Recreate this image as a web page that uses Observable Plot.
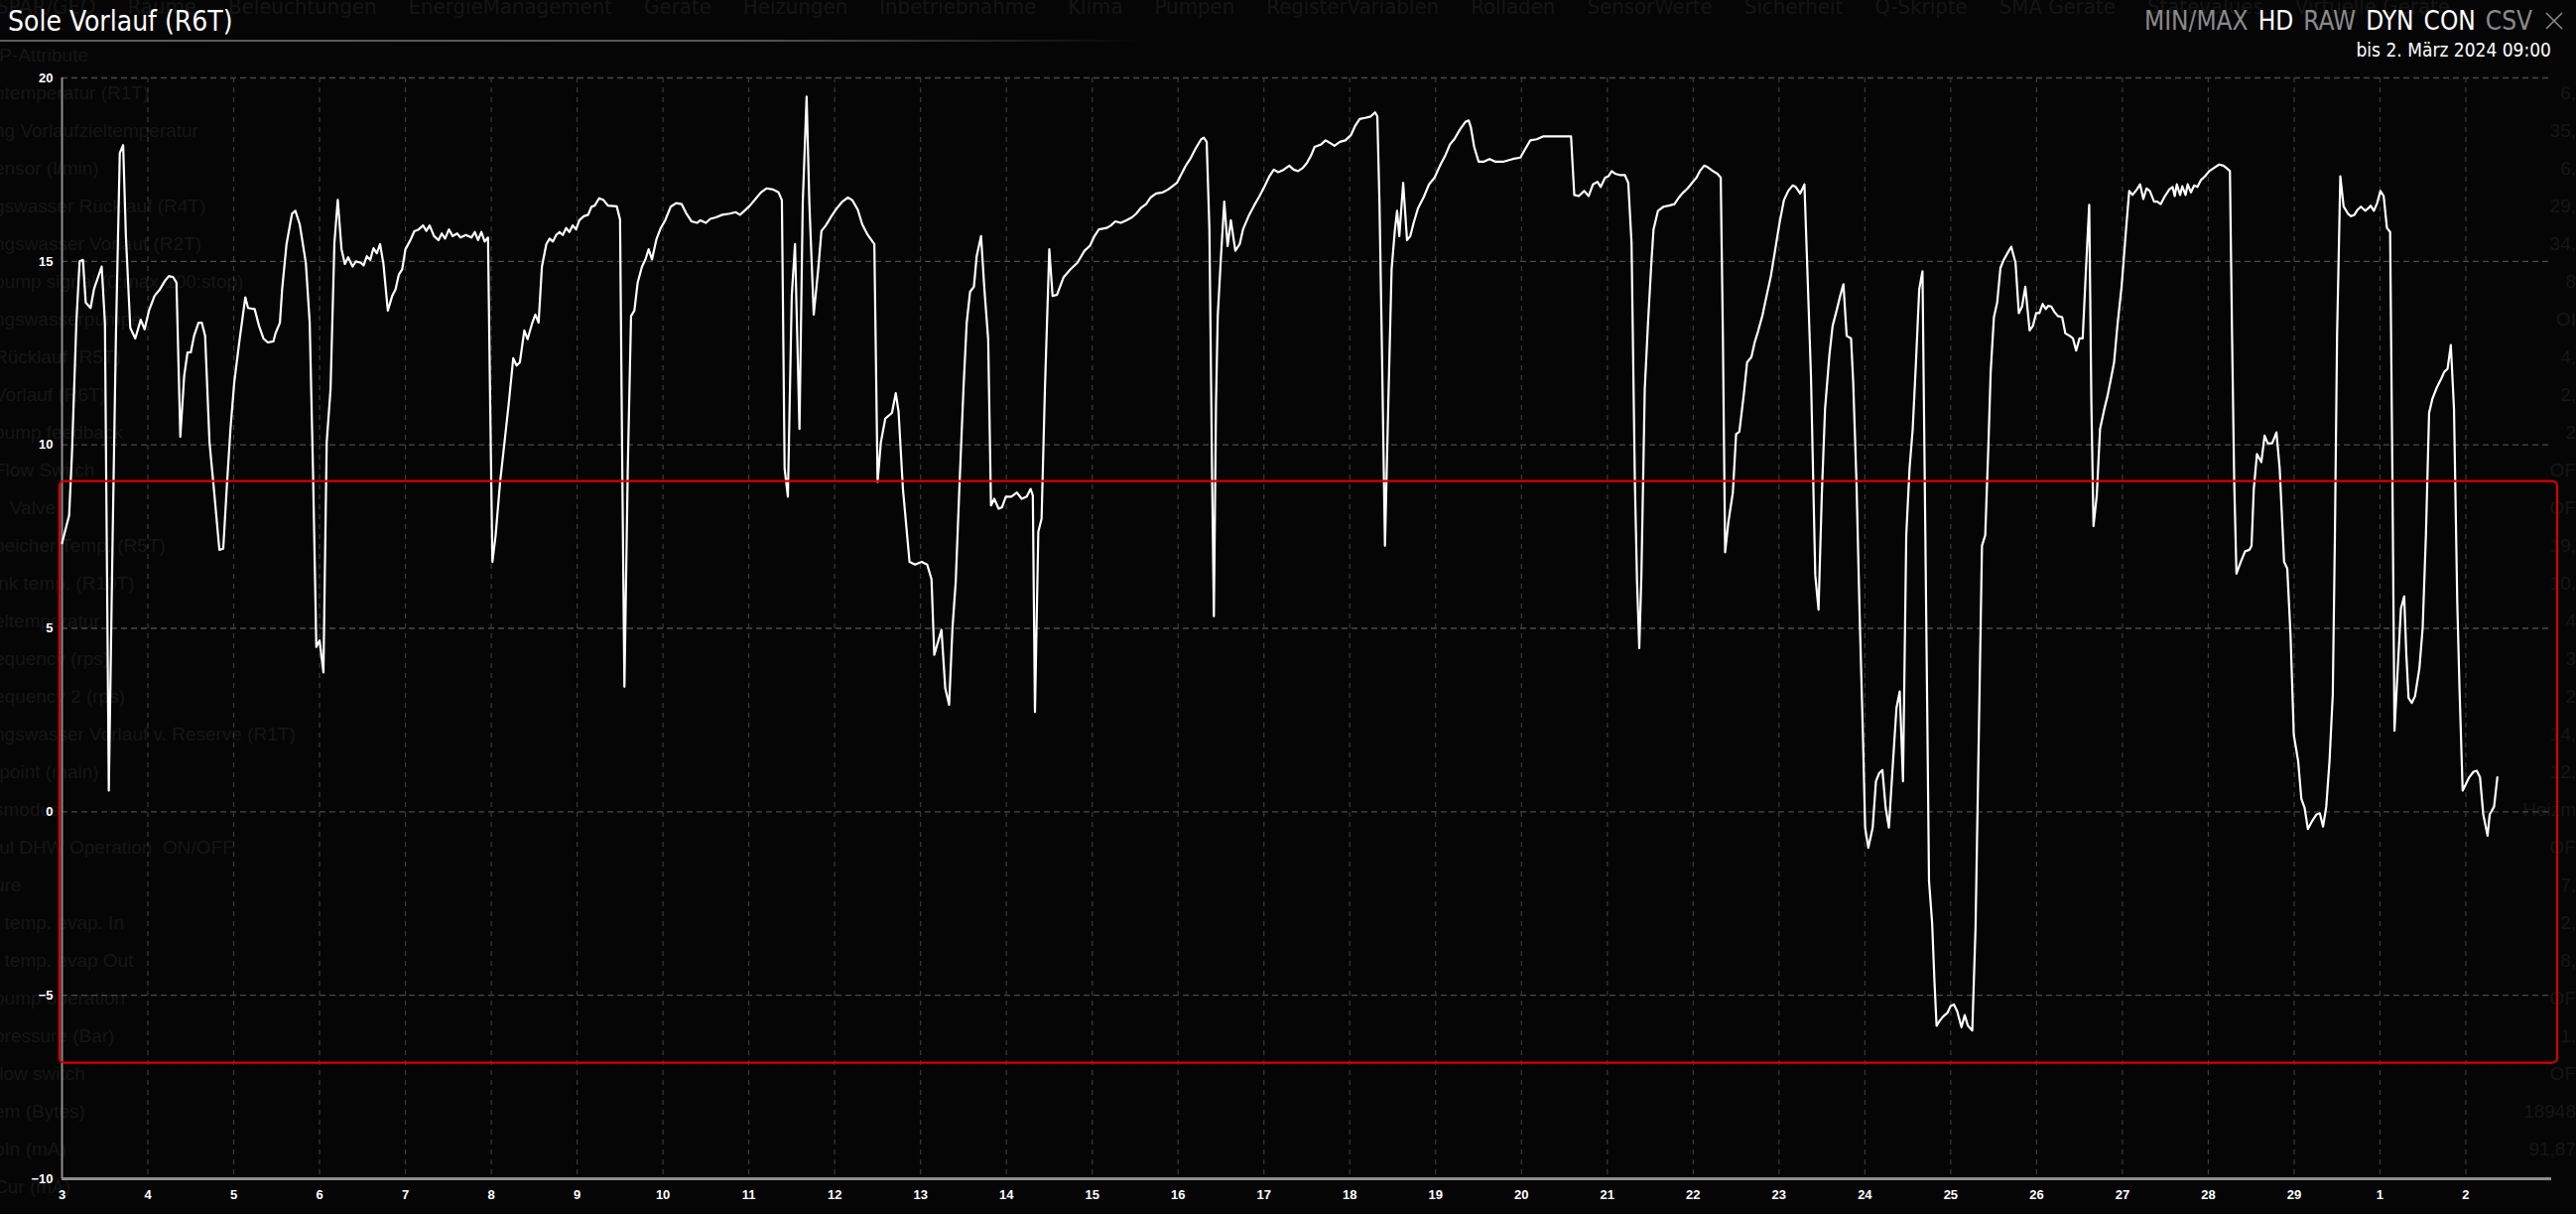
<!DOCTYPE html>
<html>
<head>
<meta charset="utf-8">
<script src="https://cdn.jsdelivr.net/npm/d3@7"></script>
<script src="https://cdn.jsdelivr.net/npm/@observablehq/plot@0.6"></script>
<style>
html,body{margin:0;padding:0;background:#050505;overflow:hidden;}
#root{position:relative;width:2596px;height:1223px;background:#050505;overflow:hidden;
  font-family:"Liberation Sans Narrow","Arial Narrow","DejaVu Sans Condensed",sans-serif;}
#ghost{position:absolute;left:0;top:0;width:2596px;height:1223px;z-index:0;pointer-events:none;}
#nav{position:absolute;left:-4px;top:-6px;display:flex;gap:32px;font-size:22px;color:#151515;white-space:nowrap;}
#leftList{position:absolute;left:-6px;top:37px;font-family:"Liberation Sans",Arial,sans-serif;font-size:19px;line-height:38px;color:#161616;white-space:pre;}
#rightList{position:absolute;right:0;top:75px;text-align:right;font-family:"Liberation Sans",Arial,sans-serif;font-size:19px;line-height:38px;color:#161616;white-space:pre;}
#header{position:relative;height:60px;z-index:2;}
#title{position:absolute;left:8px;top:8px;font-size:28px;line-height:28px;color:#fff;white-space:nowrap;}
#hline{position:absolute;left:0;top:40px;width:1150px;height:2px;background:linear-gradient(to right,#5e5e5e 0%,#545454 65%,rgba(84,84,84,0) 100%);}
#buttons{position:absolute;right:12px;top:8px;display:flex;gap:10px;align-items:center;font-size:26px;line-height:26px;white-space:nowrap;}
#buttons .on{color:#ffffff;}
#buttons .off{color:#8a8a8a;}
#date{position:absolute;right:25px;top:41px;font-size:19px;line-height:19px;color:#fff;white-space:nowrap;}
#chart{position:relative;z-index:1;}
</style>
</head>
<body>
<div id="root">
  <div id="ghost">
    <div id="nav"></div>
    <div id="leftList"></div>
    <div id="rightList"></div>
  </div>
  <div id="header">
    <div id="title"></div>
    <div id="hline"></div>
    <div id="buttons"></div>
    <div id="date"></div>
  </div>
  <div id="chart"></div>
</div>
<script>
// ---------- texts ----------
const chartTitle = "Sole Vorlauf (R6T)";
const rangeText = "bis 2. März 2024 09:00";
const buttonLabels = ["MIN/MAX", "HD", "RAW", "DYN", "CON", "CSV"];
const buttonActive = [false, true, false, true, true, false];

// faint page content behind the overlay
const navGhost = ["SPAR/GEO", "Räume", "Beleuchtungen", "EnergieManagement", "Geräte", "Heizungen", "Inbetriebnahme", "Klima", "Pumpen", "RegisterVariablen", "Rolladen", "SensorWerte", "Sicherheit", "Q-Skripte", "SMA Geräte", "Statevalues", "Virtuelle Geräte"];
const leftGhost = ["/P-Attribute", "ntemperatur (R1T)", "ng Vorlaufzieltemperatur", "ensor (l/min)", "gswasser Rücklauf (R4T)", "ngswasser Vorlauf (R2T)", "pump signal (0:max-100:stop)", "ngswasserpumpe", "Rücklauf (R5T)", "Vorlauf (R6T)", "pump feedback", "Flow Switch", "   Valve", "peicher Temp. (R5T)", "ink temp. (R10T)", "eltemperatur", "equency (rps)", "equency 2 (rps)", "ngswasser Vorlauf v. Reserve (R1T)", "tpoint (main)", "smodus", "ful DHW Operation  ON/OFF", "ure", "  temp. evap. In", "  temp. evap Out", "pump operation", "pressure (Bar)", "flow switch", "em (Bytes)", "pIn (mA)", "Cur (mA)"];
const rightGhost = ["6,", "35,", "6,", "29,", "34,", "8", "OI", "4,", "2,", "2", "OF", "OF", "19,", "10,", "4", "3", "2", "14,", "12,", "Heizm", "OF", "7,", "2,", "8,", "OF", "1,", "OF", "18948", "91,87"];

// ---------- axes ----------
const dayTicks = [0, 1, 2, 3, 4, 5, 6, 7, 8, 9, 10, 11, 12, 13, 14, 15, 16, 17, 18, 19, 20, 21, 22, 23, 24, 25, 26, 27, 28];
const dayLabels = ["3", "4", "5", "6", "7", "8", "9", "10", "11", "12", "13", "14", "15", "16", "17", "18", "19", "20", "21", "22", "23", "24", "25", "26", "27", "28", "29", "1", "2"];
const yTicks = [-10, -5, 0, 5, 10, 15, 20];
const xDomain = [0, 29];
const yDomain = [-10, 20];

// selection box (days since 3 Feb 00:00, °C)
const selection = [{x1: -0.025, x2: 29.07, y1: -6.85, y2: 9.0}];

// ---------- series: [days since 3 Feb 00:00, °C] ----------
const soleVorlauf = [
[0,7.32],[0.083,8.08],[0.115,9.71],[0.167,13.33],[0.205,15.0],[0.244,15.04],[0.276,13.88],[0.333,13.73],[0.372,14.24],[0.462,14.86],[0.5,13.33],[0.545,0.58],[0.59,7.54],[0.628,12.97],[0.673,17.95],[0.712,18.17],[0.744,15.69],[0.795,13.19],[0.853,12.9],[0.917,13.41],[0.962,13.15],[1.013,13.66],[1.077,14.06],[1.14,14.24],[1.205,14.49],[1.244,14.6],[1.295,14.57],[1.333,14.42],[1.378,10.22],[1.423,11.88],[1.462,12.52],[1.5,12.52],[1.538,12.97],[1.59,13.33],[1.628,13.33],[1.667,12.97],[1.718,10.07],[1.769,8.8],[1.833,7.14],[1.878,7.17],[1.923,8.99],[1.962,10.43],[2.006,11.7],[2.064,12.79],[2.135,14.02],[2.167,13.73],[2.244,13.7],[2.295,13.24],[2.346,12.9],[2.397,12.79],[2.462,12.82],[2.487,13.04],[2.538,13.33],[2.564,14.24],[2.615,15.47],[2.679,16.3],[2.718,16.38],[2.769,16.01],[2.84,14.96],[2.885,13.33],[2.923,9.35],[2.962,4.49],[3.0,4.67],[3.045,3.8],[3.083,10.07],[3.128,11.52],[3.173,15.51],[3.212,16.68],[3.256,15.33],[3.295,14.93],[3.333,15.11],[3.385,14.86],[3.423,15.0],[3.481,14.96],[3.513,14.89],[3.551,15.14],[3.59,15.04],[3.628,15.36],[3.667,15.22],[3.705,15.47],[3.744,14.93],[3.795,13.66],[3.846,14.06],[3.885,14.24],[3.923,14.64],[3.962,14.78],[4.0,15.33],[4.058,15.58],[4.103,15.82],[4.154,15.87],[4.205,15.98],[4.244,15.83],[4.282,15.98],[4.333,15.69],[4.385,15.58],[4.423,15.76],[4.462,15.62],[4.506,15.87],[4.551,15.69],[4.603,15.76],[4.641,15.65],[4.705,15.72],[4.769,15.65],[4.808,15.8],[4.846,15.58],[4.885,15.8],[4.923,15.54],[4.962,15.65],[4.987,11.16],[5.013,6.81],[5.051,7.54],[5.103,8.99],[5.154,10.07],[5.205,11.16],[5.256,12.36],[5.295,12.16],[5.333,12.25],[5.385,13.12],[5.423,12.88],[5.474,13.3],[5.513,13.55],[5.551,13.33],[5.59,14.86],[5.641,15.47],[5.679,15.62],[5.718,15.54],[5.756,15.72],[5.795,15.8],[5.833,15.72],[5.872,15.91],[5.91,15.8],[5.949,15.98],[5.987,15.87],[6.026,16.12],[6.077,16.23],[6.128,16.27],[6.167,16.49],[6.205,16.52],[6.256,16.72],[6.308,16.67],[6.359,16.52],[6.462,16.5],[6.5,16.14],[6.526,9.35],[6.551,3.41],[6.59,9.35],[6.628,13.51],[6.667,13.66],[6.705,14.42],[6.756,14.86],[6.795,15.05],[6.833,15.33],[6.872,15.05],[6.923,15.6],[6.974,15.91],[7.026,16.12],[7.09,16.49],[7.154,16.59],[7.218,16.56],[7.269,16.32],[7.333,16.09],[7.397,16.05],[7.436,16.12],[7.5,16.05],[7.551,16.16],[7.615,16.2],[7.692,16.27],[7.776,16.3],[7.846,16.34],[7.897,16.27],[7.949,16.38],[8.013,16.52],[8.077,16.7],[8.141,16.88],[8.205,16.99],[8.282,16.96],[8.346,16.88],[8.385,16.67],[8.417,9.35],[8.455,8.59],[8.5,14.06],[8.538,15.47],[8.59,10.43],[8.628,16.59],[8.673,19.49],[8.705,16.59],[8.756,13.55],[8.808,14.78],[8.846,15.83],[8.897,15.98],[8.962,16.23],[9.026,16.45],[9.09,16.63],[9.154,16.74],[9.205,16.67],[9.269,16.41],[9.321,16.01],[9.385,15.72],[9.462,15.47],[9.5,8.99],[9.538,10.07],[9.59,10.72],[9.667,10.87],
[9.712,11.41],[9.744,10.91],[9.795,8.8],[9.872,6.81],[9.936,6.74],[10.013,6.81],[10.077,6.74],[10.128,6.34],[10.16,4.28],[10.244,4.96],[10.288,3.37],[10.333,2.92],[10.372,5.0],[10.41,6.27],[10.449,8.62],[10.5,11.52],[10.538,13.33],[10.577,14.17],[10.622,14.31],[10.654,15.14],[10.705,15.69],[10.744,14.24],[10.788,12.88],[10.821,8.35],[10.859,8.53],[10.91,8.26],[10.949,8.3],[10.994,8.59],[11.058,8.59],[11.122,8.7],[11.179,8.53],[11.237,8.59],[11.282,8.8],[11.308,8.62],[11.333,2.72],[11.372,7.63],[11.41,7.99],[11.449,11.52],[11.5,15.33],[11.538,14.06],[11.59,14.09],[11.667,14.57],[11.744,14.78],[11.827,14.96],[11.91,15.29],[11.974,15.43],[12.026,15.69],[12.077,15.87],[12.167,15.91],[12.218,15.98],[12.269,16.09],[12.333,16.05],[12.397,16.12],[12.462,16.2],[12.513,16.3],[12.564,16.45],[12.628,16.56],[12.679,16.74],[12.744,16.85],[12.821,16.88],[12.885,16.96],[12.923,17.03],[12.987,17.14],[13.026,17.32],[13.09,17.61],[13.141,17.79],[13.205,18.08],[13.269,18.33],[13.301,18.37],[13.333,18.26],[13.365,15.87],[13.397,8.99],[13.417,5.33],[13.442,11.16],[13.462,13.51],[13.5,15.14],[13.538,16.63],[13.577,15.42],[13.615,16.12],[13.667,15.29],[13.718,15.47],[13.756,15.87],[13.821,16.23],[13.885,16.52],[13.949,16.78],[14.013,17.07],[14.064,17.32],[14.115,17.5],[14.167,17.43],[14.231,17.5],[14.295,17.61],[14.346,17.5],[14.397,17.46],[14.449,17.54],[14.5,17.68],[14.551,17.9],[14.59,18.12],[14.667,18.19],[14.718,18.3],[14.769,18.23],[14.821,18.15],[14.885,18.26],[14.949,18.3],[15.013,18.44],[15.064,18.7],[15.115,18.88],[15.179,18.91],[15.244,18.95],[15.295,19.06],[15.321,18.95],[15.346,16.59],[15.372,12.97],[15.41,7.25],[15.449,11.16],[15.487,14.78],[15.526,15.87],[15.551,16.38],[15.577,15.69],[15.622,17.14],[15.667,15.58],[15.705,15.69],[15.744,16.05],[15.795,16.45],[15.859,16.74],[15.923,17.1],[15.987,17.28],[16.051,17.61],[16.115,17.9],[16.167,18.19],[16.218,18.33],[16.282,18.59],[16.346,18.8],[16.385,18.84],[16.41,18.66],[16.449,18.12],[16.5,17.72],[16.564,17.72],[16.628,17.79],[16.692,17.72],[16.795,17.72],[16.897,17.79],[16.987,17.83],[17.038,18.04],[17.103,18.3],[17.179,18.33],[17.256,18.41],[17.372,18.41],[17.5,18.41],[17.577,18.41],[17.615,16.81],[17.667,16.78],[17.731,16.92],[17.782,16.78],[17.833,17.1],[17.885,17.17],[17.923,17.03],[17.974,17.28],[18.013,17.32],[18.051,17.46],[18.09,17.39],[18.154,17.35],[18.205,17.35],[18.244,17.14],[18.282,15.51],[18.321,8.99],[18.346,6.27],[18.372,4.46],[18.397,6.45],[18.436,11.52],[18.474,13.33],[18.513,14.96],[18.538,15.87],[18.59,16.38],[18.654,16.49],[18.718,16.52],[18.782,16.56],[18.833,16.74],[18.885,16.88],[18.936,16.99],[18.987,17.14],[19.038,17.28],[19.077,17.46],[19.128,17.61],[19.167,17.57],[19.231,17.46],[19.282,17.39],[19.321,17.28],[19.346,12.97],[19.372,7.07],[19.41,7.9],[19.462,8.7],[19.5,10.29],[19.538,10.36],[19.59,11.38],[19.628,12.25],
[19.678,12.39],[19.716,12.79],[19.754,13.08],[19.805,13.51],[19.855,14.06],[19.905,14.60],[19.956,15.33],[20.006,16.05],[20.057,16.67],[20.107,16.92],[20.158,17.07],[20.195,17.03],[20.246,16.85],[20.296,17.10],[20.372,11.88],[20.422,6.45],[20.46,5.51],[20.498,8.62],[20.536,10.98],[20.586,12.43],[20.624,13.24],[20.675,13.70],[20.712,14.06],[20.75,14.38],[20.788,12.97],[20.839,12.90],[20.864,11.70],[20.902,8.99],[20.939,5.36],[20.977,2.10],[21.003,-0.43],[21.04,-0.98],[21.091,-0.43],[21.129,0.83],[21.166,1.05],[21.204,1.14],[21.242,0.11],[21.28,-0.43],[21.318,1.01],[21.368,2.83],[21.406,3.28],[21.444,0.83],[21.482,7.54],[21.52,9.35],[21.557,10.43],[21.595,12.25],[21.633,14.24],[21.671,14.73],[21.696,9.35],[21.721,3.91],[21.747,-1.88],[21.784,-3.06],[21.81,-4.60],[21.835,-5.83],[21.873,-5.69],[21.911,-5.58],[21.961,-5.48],[21.999,-5.29],[22.037,-5.25],[22.074,-5.43],[22.125,-5.87],[22.163,-5.54],[22.2,-5.83],[22.251,-5.96],[22.289,-3.15],[22.327,2.10],[22.364,7.25],[22.402,7.54],[22.44,10.07],[22.465,11.97],[22.503,13.48],[22.541,13.88],[22.579,14.82],[22.617,15.04],[22.667,15.25],[22.705,15.40],[22.755,14.96],[22.793,13.59],[22.831,13.77],[22.869,14.31],[22.919,13.12],[22.957,13.24],[22.995,13.59],[23.033,13.59],[23.071,13.84],[23.108,13.70],[23.134,13.79],[23.171,13.77],[23.209,13.62],[23.247,13.51],[23.298,13.48],[23.335,13.04],[23.386,12.97],[23.424,12.90],[23.461,12.57],[23.499,12.90],[23.537,12.90],[23.575,14.78],[23.613,16.54],[23.638,11.16],[23.663,7.79],[23.701,8.62],[23.739,10.43],[23.789,10.98],[23.827,11.34],[23.865,11.79],[23.903,12.25],[23.941,13.24],[23.991,14.33],[24.042,15.87],[24.079,16.92],[24.117,16.81],[24.168,16.96],[24.206,17.10],[24.243,16.70],[24.281,16.99],[24.319,16.92],[24.369,16.63],[24.407,16.63],[24.445,16.56],[24.495,16.78],[24.546,16.96],[24.584,17.03],[24.609,16.78],[24.634,17.10],[24.672,16.81],[24.697,17.05],[24.735,16.81],[24.76,17.10],[24.798,16.88],[24.836,17.07],[24.874,17.03],[24.912,17.21],[24.962,17.32],[25.012,17.46],[25.063,17.54],[25.126,17.64],[25.176,17.61],[25.214,17.54],[25.252,17.46],[25.277,12.97],[25.302,8.99],[25.328,6.49],[25.378,6.81],[25.429,7.10],[25.479,7.14],[25.504,7.25],[25.53,8.80],[25.567,9.75],[25.618,9.53],[25.656,10.25],[25.693,10.04],[25.744,10.04],[25.794,10.34],[25.832,9.35],[25.883,6.81],[25.92,6.63],[25.958,4.82],[25.996,2.10],[26.047,1.38],[26.084,0.36],[26.122,0.11],[26.16,-0.47],[26.21,-0.25],[26.261,-0.07],[26.299,-0.04],[26.337,-0.40],[26.374,0.14],[26.412,1.38],[26.45,3.19],[26.475,7.54],[26.5,12.97],[26.538,17.32],[26.576,16.50],[26.627,16.30],[26.664,16.23],[26.702,16.27],[26.74,16.41],[26.778,16.49],[26.828,16.38],[26.866,16.45],[26.891,16.52],[26.929,16.38],[26.967,16.59],[27.005,16.92],[27.043,16.78],[27.081,15.91],[27.118,15.80],[27.144,9.35],[27.169,2.21],[27.207,3.91],[27.244,5.54],[27.282,5.87],[27.307,4.28],[27.333,3.10],[27.371,2.97],[27.408,3.15],[27.459,3.91],[27.497,5.0],[27.535,7.54],[27.572,10.87],[27.61,11.25],[27.661,11.56],[27.711,11.79],[27.749,11.99],[27.787,12.07],[27.825,12.72],[27.862,10.98],[27.9,5.72],[27.926,3.37],[27.963,0.58],[28.001,0.76],[28.039,0.94],[28.089,1.09],[28.127,1.12],[28.165,0.94],[28.203,-0.07],[28.253,-0.65],[28.278,-0.07],[28.329,0.14],[28.367,0.94]
];

// ---------- page chrome ----------
document.getElementById("title").textContent = chartTitle;
document.getElementById("date").textContent = rangeText;
const btns = document.getElementById("buttons");
buttonLabels.forEach((b, i) => {
  const s = document.createElement("span");
  s.className = buttonActive[i] ? "on" : "off";
  s.textContent = b;
  btns.appendChild(s);
});
const closeIcon = document.createElementNS("http://www.w3.org/2000/svg", "svg");
closeIcon.setAttribute("width", "20"); closeIcon.setAttribute("height", "20");
closeIcon.innerHTML = '<line x1="2" y1="2" x2="18" y2="18" stroke="#8a8a8a" stroke-width="1.6"/><line x1="18" y1="2" x2="2" y2="18" stroke="#8a8a8a" stroke-width="1.6"/>';
closeIcon.style.marginLeft = "2px";
btns.appendChild(closeIcon);

const nav = document.getElementById("nav");
navGhost.forEach(t => { const s = document.createElement("span"); s.textContent = t; nav.appendChild(s); });
document.getElementById("leftList").textContent = leftGhost.join("\n");
document.getElementById("rightList").textContent = rightGhost.join("\n");

// ---------- chart ----------
const data = soleVorlauf.map(([d, v]) => ({day: d, value: v}));
const fontFam = '"Liberation Sans", Arial, sans-serif';

const chart = Plot.plot({
  width: 2596,
  height: 1163,
  marginTop: 18,
  marginBottom: 36,
  marginLeft: 62,
  marginRight: 25,
  style: {background: "transparent", color: "#fff", fontFamily: fontFam, fontSize: "13px", overflow: "visible"},
  x: {type: "linear", domain: xDomain},
  y: {type: "linear", domain: yDomain},
  marks: [
    Plot.gridY(yTicks.filter(t => t > yDomain[0]), {stroke: "#4a4a4a", strokeOpacity: 1, strokeWidth: 1.3, strokeDasharray: "6,4"}),
    Plot.gridX(dayTicks.filter(t => t > 0), {stroke: "#3a3a3a", strokeOpacity: 1, strokeWidth: 1.2, strokeDasharray: "5,5"}),
    Plot.ruleX([xDomain[0]], {stroke: "#8c8c8c", strokeWidth: 2}),
    Plot.ruleY([yDomain[0]], {stroke: "#8c8c8c", strokeWidth: 3}),
    Plot.axisY(yTicks, {tickSize: 0, tickPadding: 9, fill: "#fff", fontWeight: "bold", fontSize: 13, label: null}),
    Plot.axisX(dayTicks, {tickSize: 0, tickPadding: 11, fill: "#fff", fontWeight: "bold", fontSize: 13, tickFormat: d => dayLabels[d], label: null}),
    Plot.line(data, {x: "day", y: "value", stroke: "#ffffff", strokeWidth: 2.2, curve: "linear"}),
    Plot.rect(selection, {x1: "x1", x2: "x2", y1: "y1", y2: "y2", stroke: "#d40000", strokeWidth: 2.2, fill: "none", rx: 5})
  ]
});
document.getElementById("chart").appendChild(chart);
</script>
</body>
</html>
